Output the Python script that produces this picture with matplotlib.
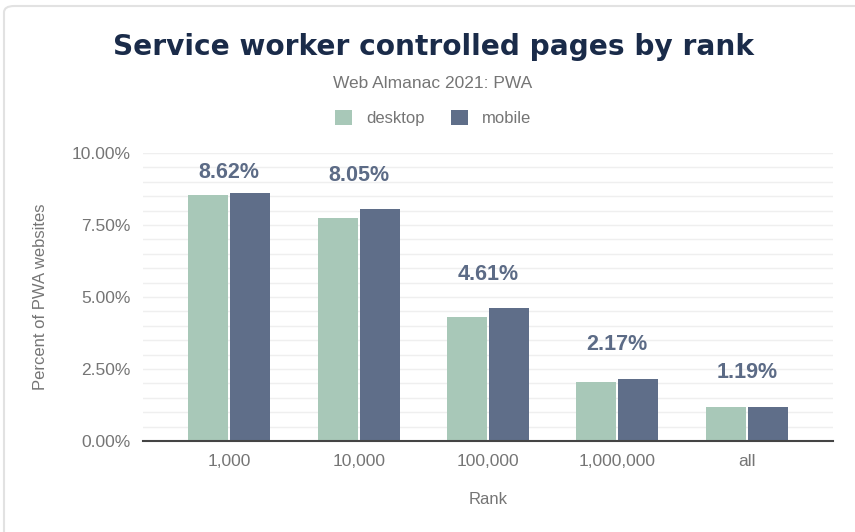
import matplotlib.pyplot as plt
from matplotlib.patches import FancyBboxPatch
import numpy as np

ranks = ["1,000", "10,000", "100,000", "1,000,000", "all"]
desktop = [8.53, 7.75, 4.32, 2.04, 1.19]
mobile = [8.62, 8.05, 4.61, 2.17, 1.19]

c_desktop = "#a8c8b8"
c_mobile = "#5f6e89"
c_label = "#5c6b86"
c_gray = "#757575"

plt.rcParams['font.family'] = ['Liberation Sans', 'DejaVu Sans']

fig = plt.figure(figsize=(8.55, 5.32), dpi=100)
ax = fig.add_axes([143 / 855, 1 - 441 / 532, 690 / 855, 288 / 532])

# card border
card = FancyBboxPatch((4 / 855, -0.1), 1.2, 1.1 - 6 / 532,
                      boxstyle="round,pad=0,rounding_size=0.012",
                      transform=fig.transFigure, facecolor="none",
                      edgecolor="#e2e2e2", linewidth=1.5, zorder=-1)
fig.patches.append(card)

x = np.arange(len(ranks))
w = 0.31
off = 0.163
b1 = ax.bar(x - off, desktop, w, color=c_desktop, label="desktop", zorder=2)
b2 = ax.bar(x + off, mobile, w, color=c_mobile, label="mobile", zorder=2)

for xi, v in zip(x, mobile):
    ax.text(xi, min(v + 1.18, 9.34), f"{v:.2f}%", ha="center", va="center",
            fontsize=15.5, fontweight="bold", color=c_label)

ax.set_xlim(-0.667, 4.667)
ax.set_ylim(0, 10)
ax.set_yticks(np.arange(0, 10.01, 2.5))
ax.set_yticklabels([f"{t:.2f}%" for t in np.arange(0, 10.01, 2.5)])
ax.set_yticks(np.arange(0, 10.01, 0.5), minor=True)
ax.grid(axis="y", which="both", color="#efefef", linewidth=1, zorder=0)
ax.set_xticks(x)
ax.set_xticklabels(ranks)
ax.tick_params(axis="both", which="both", length=0, labelsize=12.5, colors=c_gray)
ax.tick_params(axis="y", pad=9)
ax.tick_params(axis="x", pad=9)
for s in ["top", "right", "left"]:
    ax.spines[s].set_visible(False)
ax.spines["bottom"].set_color("#444444")
ax.spines["bottom"].set_linewidth(1.5)
ax.spines["bottom"].set_zorder(3)

ax.set_ylabel("Percent of PWA websites", fontsize=12, color=c_gray, labelpad=17)
ax.set_xlabel("Rank", fontsize=12, color=c_gray, labelpad=17)

fig.text(433 / 855, 1 - 47 / 532, "Service worker controlled pages by rank",
         ha="center", va="center", fontsize=20.2, fontweight="heavy",
         color="#1a2b49", family="DejaVu Sans")
fig.text(433 / 855, 1 - 83 / 532, "Web Almanac 2021: PWA", ha="center",
         va="center", fontsize=12.5, color=c_gray)

fig.legend(handles=[b1, b2], loc="center", bbox_to_anchor=(433 / 855, 1 - 118 / 532),
           ncol=2, frameon=False, fontsize=12, handlelength=1.05, handleheight=1.05,
           columnspacing=1.6, handletextpad=0.8, labelcolor=c_gray)

fig.savefig("out.png", dpi=100)
